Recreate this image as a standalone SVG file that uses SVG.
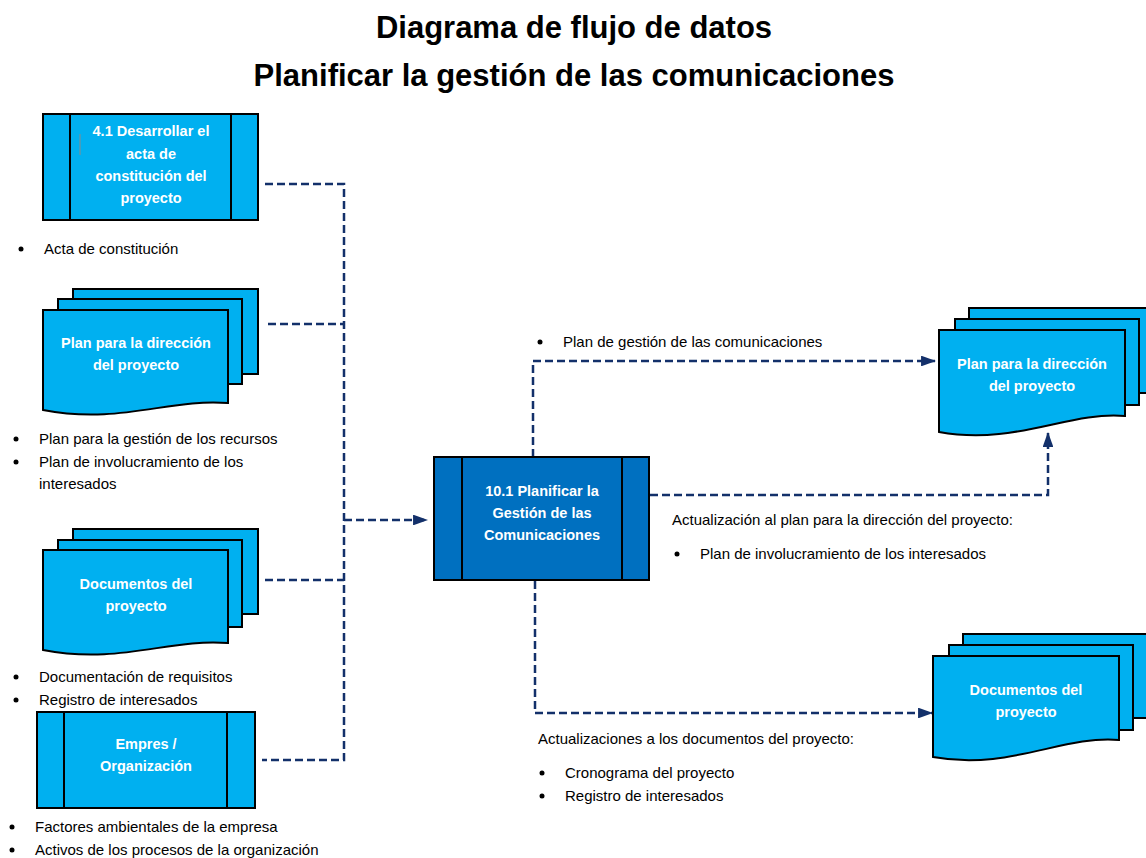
<svg xmlns="http://www.w3.org/2000/svg" width="1146" height="858" viewBox="0 0 1146 858">
<defs>
<style>
.title{font-family:"Liberation Sans",Arial,sans-serif;font-weight:bold;font-size:31px;fill:#000;text-anchor:middle}
.box{fill:#00B0F0;stroke:#000;stroke-width:2}
.boxd{fill:#0070C0;stroke:#000;stroke-width:2}
.ln{stroke:#000;stroke-width:2;fill:none}
.wt{font-family:"Liberation Sans",Arial,sans-serif;font-weight:bold;font-size:14.5px;fill:#fff;text-anchor:middle}
.tx{font-family:"Liberation Sans",Arial,sans-serif;font-size:15px;fill:#000}
.bul{fill:#000}
.cn{fill:none;stroke:#13306A;stroke-width:2.5;stroke-dasharray:8 4}
</style>
<marker id="ar" viewBox="0 0 14 10" refX="13" refY="5" markerWidth="6" markerHeight="4.3" orient="auto" markerUnits="strokeWidth">
<path d="M0,0 L14,5 L0,10 Z" fill="#13306A"/>
</marker>
</defs>
<rect width="1146" height="858" fill="#fff"/>
<text class="title" x="574" y="38">Diagrama de flujo de datos</text>
<text class="title" x="574" y="86">Planificar la gestión de las comunicaciones</text>

<g id="connectors">
<path class="cn" d="M265,184 H344 V760 H262"/>
<path class="cn" d="M268,324 H344"/>
<path class="cn" d="M265,580 H344"/>
<path class="cn" d="M344,520 H427" marker-end="url(#ar)"/>
<path class="cn" d="M533,457 V361 H935" marker-end="url(#ar)"/>
<path class="cn" d="M650,495 H1048 V433" marker-end="url(#ar)"/>
<path class="cn" d="M535,581 V713 H932" marker-end="url(#ar)"/>
</g>

<g id="n41">
<rect class="box" x="43" y="114" width="215" height="106"/>
<line class="ln" x1="70" y1="114" x2="70" y2="220"/>
<line class="ln" x1="231" y1="114" x2="231" y2="220"/>
<line x1="80" y1="134" x2="80" y2="155" stroke="#8a8a8a" stroke-width="1"/>
<text class="wt" x="151" y="136">4.1 Desarrollar el</text>
<text class="wt" x="151" y="159">acta de</text>
<text class="wt" x="151" y="181">constitución del</text>
<text class="wt" x="151" y="203">proyecto</text>
</g>
<g id="t41">
<circle class="bul" cx="21" cy="249" r="2.5"/>
<text class="tx" x="44" y="254">Acta de constitución</text>
</g>

<g id="plan1">
<rect class="box" x="73" y="289" width="185" height="85"/>
<rect class="box" x="58" y="299" width="184" height="85"/>
<path class="box" d="M43,310 H228 V403 C170,398 120,425 43,410 Z"/>
<text class="wt" x="136" y="348">Plan para la dirección</text>
<text class="wt" x="136" y="370">del proyecto</text>
</g>
<g id="tplan1">
<circle class="bul" cx="16" cy="439" r="2.5"/>
<text class="tx" x="39" y="444">Plan para la gestión de los recursos</text>
<circle class="bul" cx="16" cy="462" r="2.5"/>
<text class="tx" x="39" y="467">Plan de involucramiento de los</text>
<text class="tx" x="39" y="489">interesados</text>
</g>

<g id="docs1">
<rect class="box" x="73" y="529" width="185" height="85"/>
<rect class="box" x="58" y="540" width="184" height="87"/>
<path class="box" d="M43,550 H228 V643 C170,638 120,665 43,650 Z"/>
<text class="wt" x="136" y="589">Documentos del</text>
<text class="wt" x="136" y="611">proyecto</text>
</g>
<g id="tdocs1">
<circle class="bul" cx="16" cy="677" r="2.5"/>
<text class="tx" x="39" y="682">Documentación de requisitos</text>
<circle class="bul" cx="16" cy="700" r="2.5"/>
<text class="tx" x="39" y="705">Registro de interesados</text>
</g>

<g id="empresa">
<rect class="box" x="37" y="712" width="218" height="96"/>
<line class="ln" x1="64" y1="712" x2="64" y2="808"/>
<line class="ln" x1="227" y1="712" x2="227" y2="808"/>
<text class="wt" x="146" y="749">Empres /</text>
<text class="wt" x="146" y="771">Organización</text>
</g>
<g id="tempresa">
<circle class="bul" cx="12" cy="827" r="2.5"/>
<text class="tx" x="35" y="832">Factores ambientales de la empresa</text>
<circle class="bul" cx="12" cy="850" r="2.5"/>
<text class="tx" x="35" y="855">Activos de los procesos de la organización</text>
</g>

<g id="n101">
<rect class="boxd" x="434" y="457" width="215" height="123"/>
<line class="ln" x1="462" y1="457" x2="462" y2="580"/>
<line class="ln" x1="622" y1="457" x2="622" y2="580"/>
<text class="wt" x="542" y="496">10.1 Planificar la</text>
<text class="wt" x="542" y="518">Gestión de las</text>
<text class="wt" x="542" y="540">Comunicaciones</text>
</g>

<g id="tout1">
<circle class="bul" cx="540" cy="342" r="2.5"/>
<text class="tx" x="563" y="347">Plan de gestión de las comunicaciones</text>
</g>
<g id="tout2">
<text class="tx" x="672" y="525">Actualización al plan para la dirección del proyecto:</text>
<circle class="bul" cx="677" cy="554" r="2.5"/>
<text class="tx" x="700" y="559">Plan de involucramiento de los interesados</text>
</g>
<g id="tout3">
<text class="tx" x="538" y="744">Actualizaciones a los documentos del proyecto:</text>
<circle class="bul" cx="542" cy="773" r="2.5"/>
<text class="tx" x="565" y="778">Cronograma del proyecto</text>
<circle class="bul" cx="542" cy="796" r="2.5"/>
<text class="tx" x="565" y="801">Registro de interesados</text>
</g>

<g id="plan2">
<rect class="box" x="969" y="308" width="185" height="85"/>
<rect class="box" x="955" y="319" width="184" height="86"/>
<path class="box" d="M939,330 H1125 V416 C1068,411 1015,446 939,432 Z"/>
<text class="wt" x="1032" y="369">Plan para la dirección</text>
<text class="wt" x="1032" y="391">del proyecto</text>
</g>

<g id="docs2">
<rect class="box" x="963" y="634" width="190" height="84"/>
<rect class="box" x="949" y="645" width="184" height="85"/>
<path class="box" d="M933,656 H1119 V740 C1062,735 1009,771 933,757 Z"/>
<text class="wt" x="1026" y="695">Documentos del</text>
<text class="wt" x="1026" y="717">proyecto</text>
</g>
</svg>
